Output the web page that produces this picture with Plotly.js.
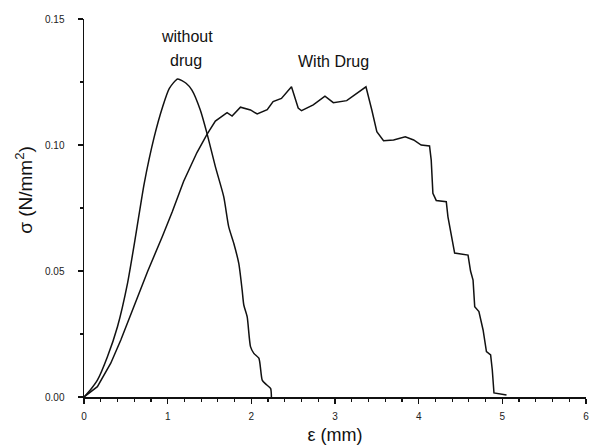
<!DOCTYPE html>
<html><head><meta charset="utf-8">
<script src="https://cdn.plot.ly/plotly-3.0.1.min.js"></script>
<style>html,body{margin:0;padding:0;background:#fff}</style>
</head><body><div id="chart" style="width:592px;height:448px"></div>
<script>
// strain (mm) and stress (N/mm^2)
const withoutDrugX = [0, 0.08, 0.16, 0.28, 0.40, 0.52, 0.62, 0.72, 0.84, 0.94, 1.02, 1.12, 1.22, 1.29, 1.39, 1.47, 1.57, 1.67, 1.73, 1.79, 1.85, 1.89, 1.91, 1.95, 1.99, 2.03, 2.09, 2.13, 2.17, 2.23, 2.24];
const withoutDrugY = [0, 0.003, 0.0067, 0.016, 0.0279, 0.0451, 0.0645, 0.0848, 0.1033, 0.1152, 0.1225, 0.1262, 0.1245, 0.1218, 0.1139, 0.1046, 0.0914, 0.0795, 0.0675, 0.061, 0.053, 0.0425, 0.0365, 0.0319, 0.020, 0.0173, 0.0154, 0.0067, 0.0052, 0.0034, 0];
const withDrugX = [0, 0.16, 0.32, 0.44, 0.60, 0.76, 0.94, 1.055, 1.19, 1.35, 1.47, 1.57, 1.71, 1.77, 1.87, 1.99, 2.07, 2.19, 2.26, 2.36, 2.48, 2.56, 2.60, 2.74, 2.88, 2.98, 3.14, 3.37, 3.44, 3.50, 3.58, 3.70, 3.84, 3.94, 4.03, 4.13, 4.15, 4.17, 4.21, 4.33, 4.35, 4.39, 4.43, 4.59, 4.62, 4.65, 4.67, 4.72, 4.77, 4.81, 4.86, 4.88, 4.90, 5.05];
const withDrugY = [0, 0.0041, 0.0134, 0.0226, 0.0362, 0.0498, 0.0640, 0.0735, 0.0855, 0.0970, 0.1042, 0.1095, 0.1128, 0.1115, 0.115, 0.1139, 0.1123, 0.1140, 0.1172, 0.1185, 0.1231, 0.1147, 0.1136, 0.1159, 0.1194, 0.1168, 0.1176, 0.1231, 0.1139, 0.1053, 0.1017, 0.102, 0.1033, 0.102, 0.100, 0.0996, 0.094, 0.0808, 0.078, 0.0775, 0.0715, 0.065, 0.0571, 0.0563, 0.050, 0.0464, 0.0358, 0.0339, 0.0266, 0.018, 0.0167, 0.0107, 0.0016, 0.0008];
const xTicks = [0, 1, 2, 3, 4, 5, 6];
const yTicks = [0.00, 0.05, 0.10, 0.15];
const yTickText = ['0.00', '0.05', '0.10', '0.15'];
const labels = ['without', 'drug', 'With Drug'];
const labelX = [1.23, 1.22, 2.98];
const labelY = [0.1429, 0.1335, 0.1332];

const lineStyle = {color: '#111', width: 1.5};
const traces = [
  {x: withoutDrugX, y: withoutDrugY, type: 'scatter', mode: 'lines', line: Object.assign({shape: 'spline', smoothing: 0.6}, lineStyle), name: 'without drug'},
  {x: withDrugX, y: withDrugY, type: 'scatter', mode: 'lines', line: lineStyle, name: 'With Drug'}
];
const FONT = 'Liberation Sans, Arial, sans-serif';
const tickFont = {family: FONT, size: 10, color: '#222'};
const layout = {
  width: 592, height: 448,
  margin: {l: 84, r: 6, t: 19, b: 51},
  paper_bgcolor: '#fff', plot_bgcolor: '#fff',
  showlegend: false,
  xaxis: {
    range: [0, 6], tickvals: xTicks, ticktext: xTicks.map(String),
    showgrid: false, zeroline: false, showline: true, linecolor: '#111', linewidth: 1.5,
    ticks: 'outside', ticklen: 5, tickwidth: 1.2, tickcolor: '#111', ticklabelstandoff: 4,
    minor: {dtick: 0.2, tick0: 0, ticks: 'outside', ticklen: 3, tickcolor: '#111', showgrid: false},
    tickfont: tickFont,
    title: {text: 'ε (mm)', font: {family: FONT, size: 18, color: '#111'}, standoff: 8}
  },
  yaxis: {
    range: [0, 0.15], tickvals: yTicks, ticktext: yTickText,
    showgrid: false, zeroline: false, showline: true, linecolor: '#111', linewidth: 1.5,
    ticks: 'outside', ticklen: 5, tickwidth: 1.2, tickcolor: '#111', ticklabelstandoff: 11,
    minor: {dtick: 0.025, tick0: 0, ticks: 'outside', ticklen: 3, tickcolor: '#111', showgrid: false},
    tickfont: tickFont
  },
  annotations: labels.map((t, i) => ({
    x: labelX[i], y: labelY[i], xref: 'x', yref: 'y', text: t, showarrow: false,
    font: {family: FONT, size: 16, color: '#111'}
  })).concat([{
    text: 'σ (N/mm<sup>2</sup>)', textangle: -90, showarrow: false,
    xref: 'paper', yref: 'paper', x: 0, y: 0.548, xanchor: 'center', yanchor: 'middle', xshift: -60,
    font: {family: FONT, size: 19, color: '#111'}
  }])
};
Plotly.newPlot('chart', traces, layout, {staticPlot: true, displayModeBar: false});
</script></body></html>
